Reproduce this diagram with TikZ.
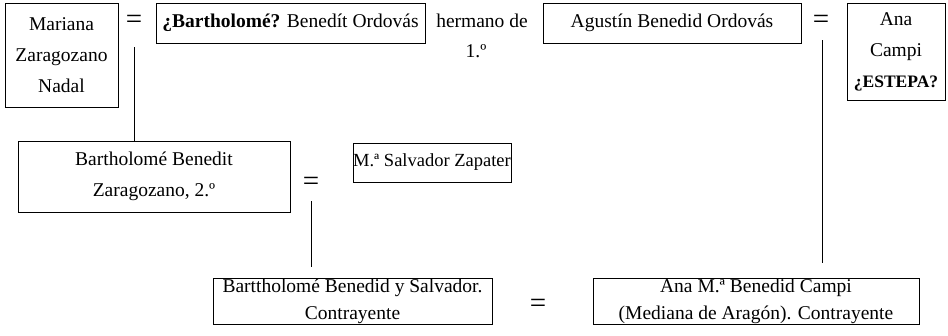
\documentclass[tikz,border=0pt]{standalone}
\usepackage{fontspec}
\setmainfont{Liberation Serif}
\begin{document}
\begin{tikzpicture}[x=1pt,y=-1pt,
  box/.style={draw, line width=0.8pt, inner sep=0pt, align=center,
    font=\fontsize{19.5}{31}\selectfont},
  lbl/.style={inner sep=0pt, align=center, font=\fontsize{19.5}{31}\selectfont},
  eqs/.style={inner sep=0pt, font=\fontsize{29}{29}\selectfont},
  link/.style={line width=0.8pt}]
\useasboundingbox (0,0) rectangle (948,335);
% top row
\node[box, minimum width=113pt, minimum height=104pt] (mar) at (61.5,55) {Mariana\\Zaragozano\\Nadal};
\node[eqs] (eq1) at (134,22) {=};
\node[box, minimum width=269pt, minimum height=40pt] (bart) at (290.5,23) {\textbf{¿Bartholomé?} Benedít Ordovás};
\node[lbl] (herm) at (482,21) {hermano de};
\node[lbl] (first) at (476,51) {1.º};
\node[box, minimum width=258pt, minimum height=40pt] (agus) at (672,23) {Agustín Benedid Ordovás};
\node[eqs] (eq3) at (821,22) {=};
\node[box, minimum width=98pt, minimum height=97pt] (ana) at (896,51.5) {Ana\\Campi\\\fontsize{17.5}{31}\selectfont\textbf{¿ESTEPA?}};
% middle row
\node[box, minimum width=272pt, minimum height=71pt] (bb) at (154,176.5) {Bartholomé Benedit\\Zaragozano, 2.º};
\node[eqs] (eq2) at (311,184) {=};
\node[box, minimum width=158pt, minimum height=39pt, font=\fontsize{18.5}{31}\selectfont] (msz) at (432,162.5) {M.ª Salvador Zapater};
% bottom row
\node[box, minimum width=279pt, minimum height=46pt, font=\fontsize{19.5}{27}\selectfont] (bs) at (352.5,301) {Barttholomé Benedid y Salvador.\\Contrayente};
\node[eqs] (eq4) at (538,306) {=};
\node[box, minimum width=326pt, minimum height=46pt, font=\fontsize{19.5}{27}\selectfont] (anam) at (756,301) {Ana M.ª Benedid Campi\\(Mediana de Aragón). Contrayente};
% connectors
\coordinate (c2) at (311,267);
\coordinate (c3) at (822,263);
\draw[link] (134,47) coordinate (s1) (s1 -| eq1) -- (eq1 |- bb.north);
\draw[link] (eq2 |- 0,201) coordinate (s2) (s2) -- (c2);
\draw[link] (c3 |- 0,40) coordinate (s3) (s3) -- (c3);
\end{tikzpicture}
\end{document}
